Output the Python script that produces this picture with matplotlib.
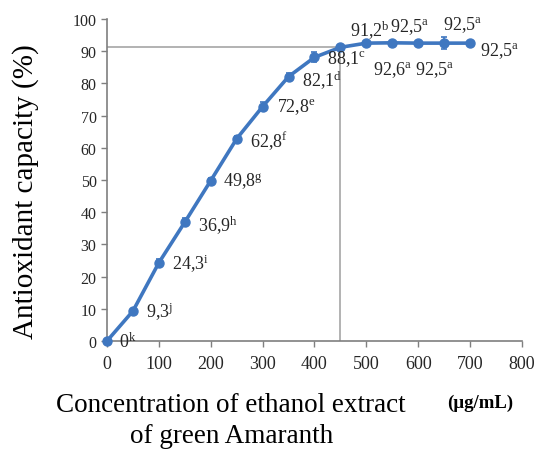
import matplotlib
matplotlib.use("Agg")
import matplotlib.pyplot as plt

plt.rcParams["font.family"] = ["Liberation Serif", "DejaVu Serif"]
plt.rcParams["mathtext.fontset"] = "custom"
plt.rcParams["mathtext.rm"] = "Liberation Serif"
plt.rcParams["mathtext.it"] = "Liberation Serif:italic"

# data
concentration = [0, 50, 100, 150, 200, 250, 300, 350, 400, 450, 500, 550, 600, 650, 700]
capacity = [0, 9.3, 24.3, 36.9, 49.8, 62.8, 72.8, 82.1, 88.1, 91.2, 92.5, 92.6, 92.5, 92.5, 92.5]
capacity_err = [0, 0.5, 1.2, 1.2, 0.8, 0.8, 1.5, 1.2, 1.5, 0.8, 0.6, 0.6, 0.6, 1.8, 0.6]
letters = ["k", "j", "i", "h", "g", "f", "e", "d", "c", "b", "a", "a", "a", "a", "a"]
ec50_x = 450
ec50_y = 91.2

# label placement (pixel offsets from each point)
label_offsets = [(12, 0), (13, 0), (13, 0), (13, -3), (12, 0), (13, -1), (14, 0),
                 (13, -3), (13, -1), (10, 17), (24, 17), (-19, -26), (-3, -26), (-1, 19), (10, -7)]

blue = "#3f77c0"
grey = "#a6a6a6"

fig = plt.figure(figsize=(5.36, 4.52), dpi=100)
ax = fig.add_axes([0.1996, 0.2434, 0.7743, 0.7124])

ax.plot([0, ec50_x], [ec50_y, ec50_y], color=grey, lw=1.2, zorder=1)
ax.plot([ec50_x, ec50_x], [0, ec50_y], color=grey, lw=1.2, zorder=1)

ax.errorbar(concentration, capacity, yerr=capacity_err, color=blue, lw=2.6,
            marker="o", ms=6.5, capsize=2.5, elinewidth=1.2, capthick=1.2, zorder=3,
            clip_on=False)

for x, y, letter, (dx, dy) in zip(concentration, capacity, letters, label_offsets):
    txt = f"{y:g}".replace(".", ",")
    ax.annotate(txt + r"$^{\mathrm{" + letter + "}}$", (x, y), xytext=(dx, dy),
                textcoords="offset pixels", ha="left", va="center", fontsize=13,
                color="#262626", zorder=4)

ax.set_xlim(0, 800)
ax.set_ylim(0, 100)
ax.set_xticks(range(0, 801, 100))
ax.set_yticks(range(0, 101, 10))
ax.tick_params(length=4, width=1, color="#7f7f7f", labelcolor="#262626")
ax.tick_params(axis="x", labelsize=13, pad=6)
ax.tick_params(axis="y", labelsize=11.5)
for side in ("top", "right"):
    ax.spines[side].set_visible(False)
for side in ("left", "bottom"):
    ax.spines[side].set_color("#7f7f7f")
    ax.spines[side].set_linewidth(1.2)

fig.text(0.0485, 0.575, "Antioxidant capacity (%)", fontsize=21, rotation=90,
         ha="center", va="center")
fig.text(0.430, 0.088, "Concentration of ethanol extract", fontsize=19.5,
         ha="center", va="baseline")
fig.text(0.433, 0.019, "of green Amaranth", fontsize=19.5, ha="center", va="baseline")
fig.text(0.896, 0.097, "(µg/mL)", fontsize=13.5, fontweight="bold", ha="center",
         va="baseline")

fig.savefig("out.png", dpi=100)
